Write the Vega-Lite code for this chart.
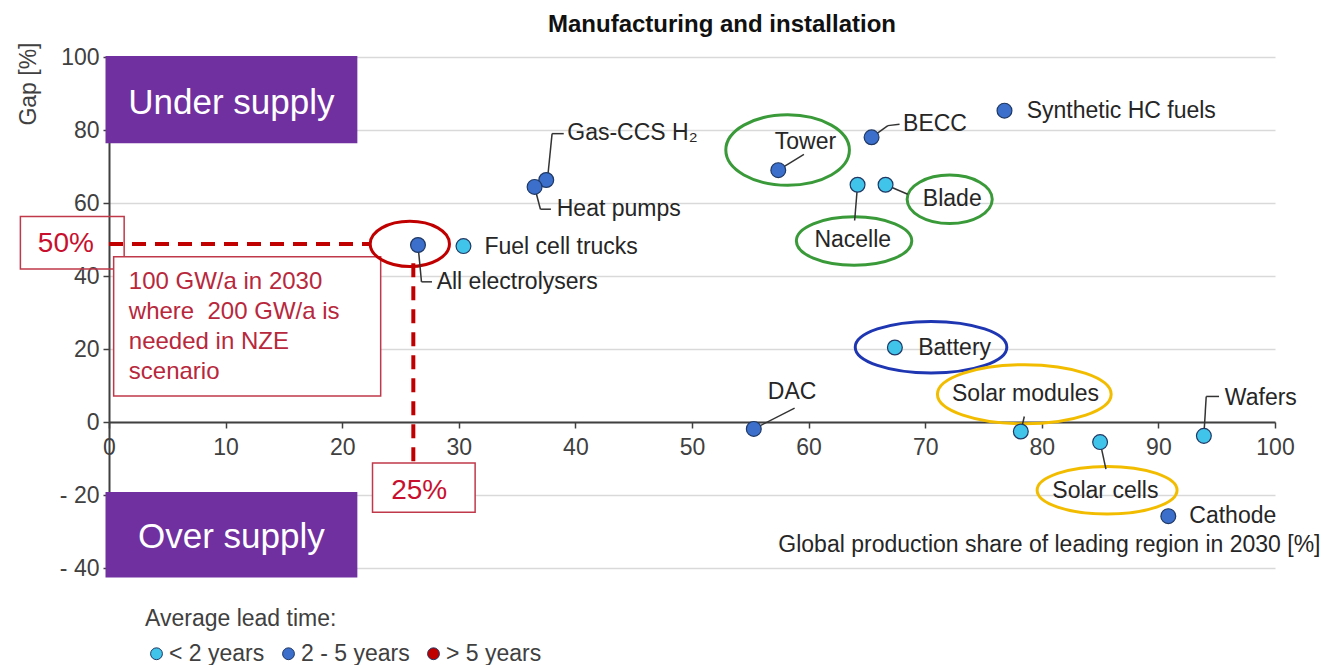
{
  "$schema": "https://vega.github.io/schema/vega-lite/v6.json",
  "width": 1166,
  "height": 511,
  "autosize": {"type": "none"},
  "padding": {"left": 109, "top": 57, "right": 49, "bottom": 97},
  "background": "white",
  "title": {"text": "Manufacturing and installation", "fontSize": 24, "fontWeight": "bold", "font": "Liberation Sans", "color": "#111111", "anchor": "middle", "dx": 30, "offset": 5},
  "config": {
    "view": {"stroke": null},
    "font": "Liberation Sans",
    "axisX": {"grid": false, "offset": -146, "labelFontSize": 23, "labelColor": "#404040", "labelFlush": false, "labelPadding": 8, "tickColor": "#404040", "tickSize": 6, "tickWidth": 1.5, "domainColor": "#404040", "domainWidth": 2, "labelFont": "Liberation Sans"},
    "axisY": {"grid": true, "gridColor": "#d9d9d9", "gridWidth": 1.5, "labelFontSize": 23, "labelColor": "#404040", "labelPadding": 4, "tickColor": "#404040", "tickSize": 6, "tickWidth": 1.5, "domainColor": "#404040", "domainWidth": 2, "labelFont": "Liberation Sans", "labelExpr": "datum.value < 0 ? '- ' + abs(datum.value) : datum.label"},
    "legend": {"orient": "none", "legendX": 36, "legendY": 551, "direction": "horizontal", "titleFontSize": 23, "titleFontWeight": "normal", "titleColor": "#404040", "titleFont": "Liberation Sans", "titleLimit": 400, "labelFontSize": 23, "labelColor": "#404040", "labelFont": "Liberation Sans", "symbolSize": 140, "symbolType": "circle", "symbolStrokeColor": "#1f3864", "symbolStrokeWidth": 1, "labelOffset": 1, "columnPadding": 12, "titlePadding": 11, "padding": 0}
  },
  "datasets": {
    "points": [
      {"item": "Gas-CCS H₂", "share": 37.5, "gap": 66.3, "lead": "2 - 5 years"},
      {"item": "Heat pumps", "share": 36.5, "gap": 64.4, "lead": "2 - 5 years"},
      {"item": "All electrolysers", "share": 26.5, "gap": 48.5, "lead": "2 - 5 years"},
      {"item": "Fuel cell trucks", "share": 30.4, "gap": 48.2, "lead": "< 2 years"},
      {"item": "Tower", "share": 57.4, "gap": 69.0, "lead": "2 - 5 years"},
      {"item": "BECC", "share": 65.4, "gap": 78.0, "lead": "2 - 5 years"},
      {"item": "Synthetic HC fuels", "share": 76.8, "gap": 85.3, "lead": "2 - 5 years"},
      {"item": "Nacelle", "share": 64.2, "gap": 65.0, "lead": "< 2 years"},
      {"item": "Blade", "share": 66.6, "gap": 65.0, "lead": "< 2 years"},
      {"item": "Battery", "share": 67.4, "gap": 20.4, "lead": "< 2 years"},
      {"item": "DAC", "share": 55.3, "gap": -1.9, "lead": "2 - 5 years"},
      {"item": "Solar modules", "share": 78.2, "gap": -2.6, "lead": "< 2 years"},
      {"item": "Solar cells", "share": 85.0, "gap": -5.5, "lead": "< 2 years"},
      {"item": "Wafers", "share": 93.9, "gap": -3.8, "lead": "< 2 years"},
      {"item": "Cathode", "share": 90.85, "gap": -25.8, "lead": "2 - 5 years"}
    ],
    "labels": [
      {"text": "Gas-CCS H₂", "x": 39.3, "y": 79.3},
      {"text": "Heat pumps", "x": 38.4, "y": 58.3},
      {"text": "Fuel cell trucks", "x": 32.2, "y": 48.0},
      {"text": "All electrolysers", "x": 28.1, "y": 38.4},
      {"text": "Tower", "x": 57.1, "y": 76.6},
      {"text": "BECC", "x": 68.1, "y": 81.7},
      {"text": "Synthetic HC fuels", "x": 78.7, "y": 85.3},
      {"text": "Nacelle", "x": 60.5, "y": 49.9},
      {"text": "Blade", "x": 69.8, "y": 61.0},
      {"text": "Battery", "x": 69.4, "y": 20.3},
      {"text": "DAC", "x": 56.5, "y": 8.2},
      {"text": "Solar modules", "x": 72.3, "y": 7.8},
      {"text": "Solar cells", "x": 80.9, "y": -18.8},
      {"text": "Wafers", "x": 95.7, "y": 6.7},
      {"text": "Cathode", "x": 92.65, "y": -25.8}
    ],
    "leaders": [
      {"item": "Gas-CCS H₂", "x": 37.6, "y": 66.3, "x2": 38.0, "y2": 79.0},
      {"item": "Gas-CCS H₂", "x": 38.0, "y": 79.0, "x2": 39.0, "y2": 79.0},
      {"item": "Heat pumps", "x": 36.5, "y": 64.4, "x2": 37.0, "y2": 58.3},
      {"item": "Heat pumps", "x": 37.0, "y": 58.3, "x2": 37.9, "y2": 58.3},
      {"item": "All electrolysers", "x": 26.5, "y": 48.5, "x2": 26.8, "y2": 38.4},
      {"item": "All electrolysers", "x": 26.8, "y": 38.4, "x2": 27.7, "y2": 38.4},
      {"item": "Tower", "x": 57.4, "y": 69.0, "x2": 59.6, "y2": 73.3},
      {"item": "BECC", "x": 65.4, "y": 78.0, "x2": 66.8, "y2": 81.2},
      {"item": "BECC", "x": 66.8, "y": 81.2, "x2": 67.8, "y2": 81.6},
      {"item": "Blade", "x": 66.6, "y": 65.0, "x2": 68.5, "y2": 62.4},
      {"item": "Nacelle", "x": 64.2, "y": 65.0, "x2": 63.95, "y2": 55.2},
      {"item": "DAC", "x": 55.3, "y": -1.9, "x2": 58.8, "y2": 3.8},
      {"item": "Solar modules", "x": 78.2, "y": -2.6, "x2": 78.5, "y2": 1.5},
      {"item": "Solar cells", "x": 85.0, "y": -5.5, "x2": 85.5, "y2": -12.9},
      {"item": "Wafers", "x": 93.9, "y": -3.8, "x2": 94.1, "y2": 7.0},
      {"item": "Wafers", "x": 94.1, "y": 7.0, "x2": 95.2, "y2": 7.0}
    ],
    "ellipses": [
      {"name": "Tower", "group": "wind", "x": 58.2, "y": 74.5, "span": 10.6},
      {"name": "Blade", "group": "wind", "x": 72.1, "y": 61.0, "span": 7.3},
      {"name": "All electrolysers", "group": "electrolyser", "x": 25.8, "y": 48.8, "span": 6.8},
      {"name": "Nacelle", "group": "wind", "x": 63.9, "y": 49.6, "span": 9.9},
      {"name": "Battery", "group": "battery", "x": 70.5, "y": 20.5, "span": 13.0},
      {"name": "Solar modules", "group": "solar", "x": 78.5, "y": 7.6, "span": 14.9},
      {"name": "Solar cells", "group": "solar", "x": 85.6, "y": -18.7, "span": 12.0}
    ],
    "zones": [
      {"zone": "Under supply", "x": -0.3, "x2": 21.3, "y": 100.3, "y2": 76.4, "tx": 10.5, "ty": 87.4},
      {"zone": "Over supply", "x": -0.3, "x2": 21.3, "y": -19.2, "y2": -42.6, "tx": 10.5, "ty": -31.6}
    ],
    "dashes": [
      {"x": 0, "y": 48.8, "x2": 22.3, "y2": 48.8},
      {"x": 26.1, "y": 43.5, "x2": 26.1, "y2": -10.8}
    ],
    "redboxes": [
      {"box": "50%", "x": -7.6, "x2": 1.3, "y": 56.3, "y2": 41.9},
      {"box": "note", "x": 0.4, "x2": 23.3, "y": 45.3, "y2": 7.1},
      {"box": "25%", "x": 22.6, "x2": 31.4, "y": -11.2, "y2": -24.7}
    ],
    "redtext": [
      {"t": "50%", "x": -3.7, "y": 48.7},
      {"t": "25%", "x": 26.6, "y": -19.0}
    ],
    "note": [
      {"line": "100 GW/a in 2030", "x": 1.7, "y": 38.4},
      {"line": "where \u00a0200 GW/a is", "x": 1.7, "y": 30.2},
      {"line": "needed in NZE", "x": 1.7, "y": 22.0},
      {"line": "scenario", "x": 1.7, "y": 13.8}
    ],
    "xtitle": [
      {"t": "Global production share of leading region in 2030 [%]", "x": 103.9, "y": -33.8}
    ]
  },
  "layer": [
    {
      "data": {"name": "zones"},
      "mark": {"type": "rect", "fill": "#7030a0"},
      "encoding": {
        "x": {"field": "x", "type": "quantitative", "scale": {"domain": [0, 100], "nice": false, "zero": false}, "axis": {"title": null, "values": [0,10,20,30,40,50,60,70,80,90,100]}},
        "x2": {"field": "x2"},
        "y": {"field": "y", "type": "quantitative", "scale": {"domain": [-40, 100], "nice": false, "zero": false}, "axis": {"values": [-40,-20,0,20,40,60,80,100], "title": "Gap [%]", "titleFontSize": 23, "titleFontWeight": "normal", "titleColor": "#404040", "titleFont": "Liberation Sans", "titleX": -81, "titleY": -15, "titleAngle": 270, "titleAlign": "right", "titleBaseline": "middle"}},
        "y2": {"field": "y2"}
      }
    },
    {
      "data": {"name": "zones"},
      "mark": {"type": "text", "color": "white", "fontSize": 35, "font": "Liberation Sans", "align": "center", "baseline": "middle"},
      "encoding": {
        "x": {"field": "tx", "type": "quantitative", "title": null},
        "y": {"field": "ty", "type": "quantitative"},
        "text": {"field": "zone"}
      }
    },
    {
      "data": {"name": "redboxes"},
      "mark": {"type": "rect", "fill": "white", "fillOpacity": 0, "stroke": "#c0394a", "strokeWidth": 1.5},
      "transform": [{"filter": "datum.box === '50%'"}],
      "encoding": {
        "x": {"field": "x", "type": "quantitative", "title": null},
        "x2": {"field": "x2"},
        "y": {"field": "y", "type": "quantitative"},
        "y2": {"field": "y2"}
      }
    },
    {
      "data": {"name": "redboxes"},
      "mark": {"type": "rect", "fill": "white", "stroke": "#c0394a", "strokeWidth": 1.5},
      "transform": [{"filter": "datum.box !== '50%'"}],
      "encoding": {
        "x": {"field": "x", "type": "quantitative", "title": null},
        "x2": {"field": "x2"},
        "y": {"field": "y", "type": "quantitative"},
        "y2": {"field": "y2"}
      }
    },
    {
      "data": {"name": "dashes"},
      "mark": {"type": "rule", "color": "#c00000", "strokeWidth": 4, "strokeDash": [14, 9]},
      "encoding": {
        "x": {"field": "x", "type": "quantitative", "title": null},
        "x2": {"field": "x2"},
        "y": {"field": "y", "type": "quantitative"},
        "y2": {"field": "y2"}
      }
    },
    {
      "data": {"name": "redtext"},
      "mark": {"type": "text", "color": "#c8102e", "fontSize": 28, "font": "Liberation Sans", "align": "center", "baseline": "middle"},
      "encoding": {
        "x": {"field": "x", "type": "quantitative", "title": null},
        "y": {"field": "y", "type": "quantitative"},
        "text": {"field": "t"}
      }
    },
    {
      "data": {"name": "note"},
      "mark": {"type": "text", "color": "#b8283c", "fontSize": 24, "font": "Liberation Sans", "align": "left", "baseline": "middle"},
      "encoding": {
        "x": {"field": "x", "type": "quantitative", "title": null},
        "y": {"field": "y", "type": "quantitative"},
        "text": {"field": "line"}
      }
    },
    {
      "data": {"name": "ellipses"},
      "transform": [{"filter": "indexof(['Tower','Blade','All electrolysers'], datum.name) >= 0"}],
      "mark": {"type": "point", "shape": "M-1,0A1,0.57,0,1,1,1,0A1,0.57,0,1,1,-1,0Z", "filled": false, "strokeWidth": 3, "opacity": 1},
      "encoding": {
        "x": {"field": "x", "type": "quantitative", "title": null},
        "y": {"field": "y", "type": "quantitative"},
        "size": {"field": "span", "type": "quantitative", "scale": {"type": "pow", "exponent": 2, "domain": [0, 100], "range": [0, 1359556], "nice": false}, "legend": null},
        "stroke": {"field": "group", "type": "nominal", "scale": {"domain": ["wind", "battery", "solar", "electrolyser"], "range": ["#3a9a3a", "#1f36b3", "#f2bd00", "#c00000"]}, "legend": null}
      }
    },
    {
      "data": {"name": "ellipses"},
      "transform": [{"filter": "datum.name === 'Nacelle'"}],
      "mark": {"type": "point", "shape": "M-1,0A1,0.42,0,1,1,1,0A1,0.42,0,1,1,-1,0Z", "filled": false, "strokeWidth": 3, "opacity": 1},
      "encoding": {
        "x": {"field": "x", "type": "quantitative", "title": null},
        "y": {"field": "y", "type": "quantitative"},
        "size": {"field": "span", "type": "quantitative", "legend": null},
        "stroke": {"field": "group", "type": "nominal", "legend": null}
      }
    },
    {
      "data": {"name": "ellipses"},
      "transform": [{"filter": "indexof(['Battery','Solar modules','Solar cells'], datum.name) >= 0"}],
      "mark": {"type": "point", "shape": "M-1,0A1,0.34,0,1,1,1,0A1,0.34,0,1,1,-1,0Z", "filled": false, "strokeWidth": 3, "opacity": 1},
      "encoding": {
        "x": {"field": "x", "type": "quantitative", "title": null},
        "y": {"field": "y", "type": "quantitative"},
        "size": {"field": "span", "type": "quantitative", "legend": null},
        "stroke": {"field": "group", "type": "nominal", "legend": null}
      }
    },
    {
      "data": {"name": "leaders"},
      "mark": {"type": "rule", "color": "#333333", "strokeWidth": 1.5},
      "encoding": {
        "x": {"field": "x", "type": "quantitative", "title": null},
        "x2": {"field": "x2"},
        "y": {"field": "y", "type": "quantitative"},
        "y2": {"field": "y2"}
      }
    },
    {
      "data": {"name": "points"},
      "mark": {"type": "point", "filled": true, "size": 220, "stroke": "#1f3864", "strokeWidth": 1.2, "opacity": 1},
      "encoding": {
        "x": {"field": "share", "type": "quantitative", "title": null},
        "y": {"field": "gap", "type": "quantitative"},
        "fill": {"field": "lead", "type": "nominal", "title": "Average lead time:", "scale": {"domain": ["< 2 years", "2 - 5 years", "> 5 years"], "range": ["#41c4ea", "#3b6fcb", "#c00000"]}}
      }
    },
    {
      "data": {"name": "labels"},
      "mark": {"type": "text", "color": "#262626", "fontSize": 23, "font": "Liberation Sans", "align": "left", "baseline": "middle"},
      "encoding": {
        "x": {"field": "x", "type": "quantitative", "title": null},
        "y": {"field": "y", "type": "quantitative"},
        "text": {"field": "text"}
      }
    },
    {
      "data": {"name": "xtitle"},
      "mark": {"type": "text", "color": "#262626", "fontSize": 23, "font": "Liberation Sans", "align": "right", "baseline": "middle"},
      "encoding": {
        "x": {"field": "x", "type": "quantitative", "title": null},
        "y": {"field": "y", "type": "quantitative"},
        "text": {"field": "t"}
      }
    }
  ]
}
